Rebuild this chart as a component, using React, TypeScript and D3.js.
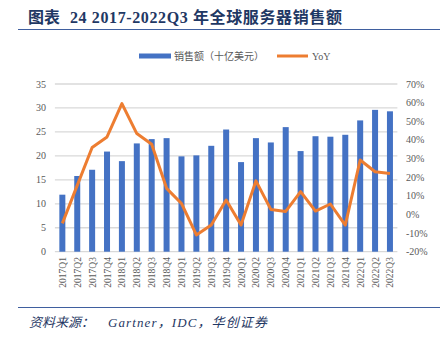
import React from "react";
import * as d3 from "d3";

const categories = ["2017Q1","2017Q2","2017Q3","2017Q4","2018Q1","2018Q2","2018Q3","2018Q4","2019Q1","2019Q2","2019Q3","2019Q4","2020Q1","2020Q2","2020Q3","2020Q4","2021Q1","2021Q2","2021Q3","2021Q4","2022Q1","2022Q2","2022Q3"];
const sales = [11.9,15.8,17.1,20.9,18.9,22.6,23.5,23.7,19.9,20.1,22.1,25.5,18.7,23.7,22.8,26.0,21.0,24.1,24.0,24.4,27.4,29.6,29.3];
const yoy = [-4.8,15.6,35.9,41.6,59.5,43.4,37.7,14.0,5.9,-11.0,-5.7,7.7,-5.7,18.0,2.7,1.6,12.2,1.8,5.6,-5.7,29.2,22.9,22.0];
const leftTicks = [0,5,10,15,20,25,30,35];
const rightTicks = [-20,-10,0,10,20,30,40,50,60,70];

const W = 446, H = 337;
const plotTop = 84, plotBottom = 251.7, plotLeft = 54.9, plotRight = 397.4;

export default function App() {
  const xb = d3.scaleBand<string>().domain(categories).range([plotLeft, plotRight]);
  const yL = d3.scaleLinear().domain([0, 35]).range([plotBottom, plotTop]);
  const yR = d3.scaleLinear().domain([-20, 70]).range([plotBottom, plotTop]);
  const cx = (c: string) => (xb(c) as number) + xb.bandwidth() / 2;
  const bw = 6;
  const line = d3.line<number>().x((_, i) => cx(categories[i])).y((d) => yR(d));
  const serif = "'Liberation Serif', 'Times New Roman', serif";
  const cjk = "'Liberation Serif', 'Noto Sans CJK SC', serif";
  return (
    <svg width={W} height={H} style={{ position: "absolute", left: 0, top: 0, background: "#fff" }}>
      <text x={28} y={23} fontFamily={cjk} fontWeight="bold" fontSize={16} fill="#1F3864">图表</text>
      <text x={70} y={23} fontFamily={cjk} fontWeight="bold" fontSize={16} fill="#1F3864" textLength={272} lengthAdjust="spacing">24 2017-2022Q3 年全球服务器销售额</text>
      <line x1={18} x2={440} y1={29.5} y2={29.5} stroke="#3F5F9F" strokeWidth={1.2} />
      {leftTicks.map((t) => (
        <g key={"g" + t}>
          <line x1={plotLeft} x2={plotRight} y1={yL(t)} y2={yL(t)} stroke="#D9D9D9" strokeWidth={1.3} />
          <text x={46} y={yL(t) + 3.5} textAnchor="end" fontFamily={serif} fontSize={10} fill="#595959">{t}</text>
        </g>
      ))}
      {rightTicks.map((t) => (
        <text key={"r" + t} x={406} y={yR(t) + 3.5} textAnchor="start" fontFamily={serif} fontSize={10} fill="#595959">{t}%</text>
      ))}
      {categories.map((c, i) => (
        <rect key={c} x={cx(c) - bw / 2} y={yL(sales[i])} width={bw} height={plotBottom - yL(sales[i])} fill="#4472C4" />
      ))}
      <path d={line(yoy) || ""} fill="none" stroke="#ED7D31" strokeWidth={3} strokeLinejoin="round" />
      {categories.map((c) => (
        <text key={"x" + c} transform={`translate(${cx(c) + 3.5},${257}) rotate(-90)`} textAnchor="end" fontFamily={serif} fontSize={9.5} fill="#595959">{c}</text>
      ))}
      <rect x={139} y={53.5} width={32} height={5} fill="#4472C4" />
      <text x={174} y={59.5} fontFamily={cjk} fontSize={10} fill="#595959">销售额（十亿美元）</text>
      <line x1={277} x2={308} y1={56} y2={56} stroke="#ED7D31" strokeWidth={3} />
      <text x={312} y={59.5} fontFamily={serif} fontSize={10} fill="#595959">YoY</text>
      <line x1={18} x2={440} y1={307.5} y2={307.5} stroke="#3F5F9F" strokeWidth={1.2} />
      <text x={29} y={327} fontFamily={cjk} fontStyle="italic" fontSize={13} fill="#1F3864">资料来源：</text>
      <text x={108} y={327} fontFamily={cjk} fontStyle="italic" fontSize={13} fill="#1F3864" textLength={159} lengthAdjust="spacing">Gartner，IDC，华创证券</text>
    </svg>
  );
}
